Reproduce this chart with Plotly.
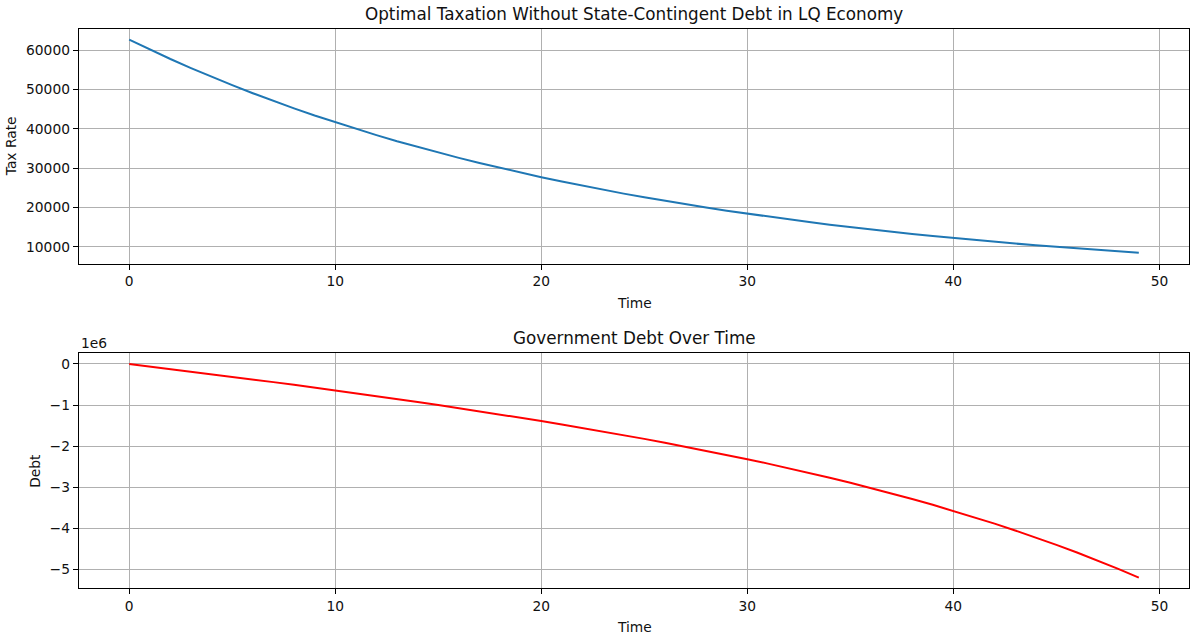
import plotly.graph_objects as go

# ---------------- data ----------------
time = list(range(50))

tax_rate = [62700, 60190, 57780, 55470, 53250, 51120, 49080, 47120, 45230, 43420,
            41690, 40020, 38420, 36880, 35410, 33990, 32630, 31320, 30070, 28870,
            27710, 26610, 25540, 24520, 23540, 22600, 21690, 20830, 19990, 19190,
            18420, 17690, 16980, 16300, 15650, 15020, 14420, 13850, 13290, 12760,
            12250, 11760, 11290, 10840, 10400, 9990, 9590, 9200, 8840, 8480]

debt = [0, -61100, -122900, -185200, -248300, -312000, -376400, -441700, -507800, -574800,
        -642700, -711600, -781600, -852700, -925000, -998500, -1073400, -1149700, -1227500, -1306900,
        -1388000, -1470800, -1555600, -1642300, -1731200, -1822400, -1915900, -2012000, -2110700, -2212300,
        -2316900, -2424700, -2536000, -2650800, -2769400, -2892000, -3019000, -3150400, -3286700, -3428100,
        -3574900, -3727400, -3885900, -4051000, -4222800, -4401900, -4588600, -4783500, -4987000, -5199600]

x_ticks = [0, 10, 20, 30, 40, 50]
tax_ticks = [10000, 20000, 30000, 40000, 50000, 60000]
tax_tick_text = ["10000", "20000", "30000", "40000", "50000", "60000"]
debt_ticks = [-5e6, -4e6, -3e6, -2e6, -1e6, 0]
debt_tick_text = ["\u22125", "\u22124", "\u22123", "\u22122", "\u22121", "0"]

title_top = "Optimal Taxation Without State-Contingent Debt in LQ Economy"
title_bottom = "Government Debt Over Time"

# ---------------- layout geometry ----------------
W, H = 1192, 637
FONT = "DejaVu Sans"
xdom = [78.7 / W, 1189.3 / W]
top_px = (29.0, 263.5)
bot_px = (353.3, 588.3)
ydom_top = [1 - top_px[1] / H, 1 - top_px[0] / H]
ydom_bot = [1 - bot_px[1] / H, 1 - bot_px[0] / H]


def pad_range(vals):
    lo, hi = min(vals), max(vals)
    s = hi - lo
    return [lo - 0.05 * s, hi + 0.05 * s]


fig = go.Figure()
fig.add_trace(go.Scatter(x=time, y=tax_rate, mode="lines",
                         line=dict(color="#1f77b4", width=2),
                         xaxis="x", yaxis="y", showlegend=False))
fig.add_trace(go.Scatter(x=time, y=debt, mode="lines",
                         line=dict(color="red", width=2),
                         xaxis="x2", yaxis="y2", showlegend=False))

axis_common = dict(showline=True, mirror=True, linecolor="black", linewidth=1,
                   ticks="outside", ticklen=5, tickwidth=1, tickcolor="black",
                   showgrid=True, gridcolor="#b0b0b0", gridwidth=1, automargin=False,
                   zeroline=False, tickfont=dict(family=FONT, size=13.8, color="#111"))

xr = pad_range(time)
fig.update_layout(
    width=W, height=H,
    margin=dict(l=0, r=0, t=0, b=0, pad=0),
    paper_bgcolor="white", plot_bgcolor="white",
    font=dict(family=FONT, color="#111"),
    xaxis=dict(domain=xdom, anchor="y", range=xr, tickvals=x_ticks, **axis_common),
    yaxis=dict(domain=ydom_top, anchor="x", range=pad_range(tax_rate),
               tickvals=tax_ticks, ticktext=tax_tick_text, **axis_common),
    xaxis2=dict(domain=xdom, anchor="y2", range=xr, tickvals=x_ticks, **axis_common),
    yaxis2=dict(domain=ydom_bot, anchor="x2", range=pad_range(debt),
                tickvals=debt_ticks, ticktext=debt_tick_text, **axis_common),
)

cx = (xdom[0] + xdom[1]) / 2
ann = []
# titles
ann.append(dict(text=title_top, x=cx, y=ydom_top[1], xref="paper", yref="paper",
                xanchor="center", yanchor="bottom", yshift=3, showarrow=False,
                font=dict(family=FONT, size=16.8, color="#111")))
ann.append(dict(text=title_bottom, x=cx, y=ydom_bot[1], xref="paper", yref="paper",
                xanchor="center", yanchor="bottom", yshift=3, showarrow=False,
                font=dict(family=FONT, size=16.8, color="#111")))
# x labels
ann.append(dict(text="Time", x=cx, y=1 - 303 / H, xref="paper", yref="paper",
                xanchor="center", yanchor="middle", showarrow=False,
                font=dict(family=FONT, size=13.8, color="#111")))
ann.append(dict(text="Time", x=cx, y=1 - 627 / H, xref="paper", yref="paper",
                xanchor="center", yanchor="middle", showarrow=False,
                font=dict(family=FONT, size=13.8, color="#111")))
# y labels
ann.append(dict(text="Tax Rate", x=11 / W, y=1 - (sum(top_px) / 2) / H, xref="paper", yref="paper",
                xanchor="center", yanchor="middle", textangle=-90, showarrow=False,
                font=dict(family=FONT, size=13.8, color="#111")))
ann.append(dict(text="Debt", x=35 / W, y=1 - (sum(bot_px) / 2) / H, xref="paper", yref="paper",
                xanchor="center", yanchor="middle", textangle=-90, showarrow=False,
                font=dict(family=FONT, size=13.8, color="#111")))
# offset text
ann.append(dict(text="1e6", x=xdom[0], y=ydom_bot[1], xref="paper", yref="paper",
                xanchor="left", yanchor="bottom", yshift=0, showarrow=False,
                font=dict(family=FONT, size=13.8, color="#111")))
fig.update_layout(annotations=ann)

fig.write_html("out.html", config={"displayModeBar": False},
               post_script="document.body.style.margin='0px';")
